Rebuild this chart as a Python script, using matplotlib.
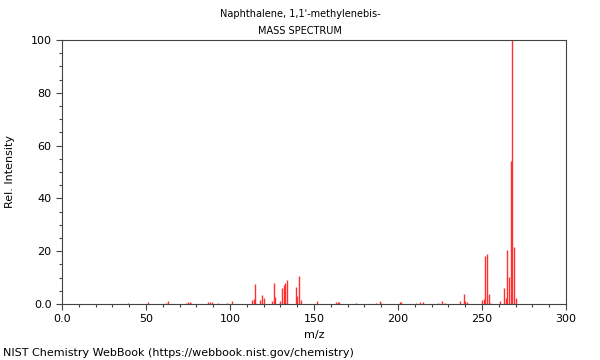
import matplotlib
matplotlib.use("Agg")
from matplotlib import pyplot as plt
from matplotlib.ticker import MultipleLocator, FuncFormatter

# ------------------------------------------------------------------------ data
title = "Naphthalene, 1,1'-methylenebis-"
mz = [39, 51, 62, 63, 74, 75, 76, 77, 87, 88, 89, 93, 98, 101,
      113, 114, 115, 118, 119, 120, 125, 126, 127, 130, 131, 132, 133, 134,
      139, 140, 141, 142, 152, 163, 164, 165, 175, 187, 189, 190, 201, 202,
      211, 213, 215, 224, 226, 228, 237, 239, 240, 241, 250, 251, 252, 253,
      254, 255, 261, 263, 264, 265, 266, 267, 268, 269, 270]
intensity = [0.5, 0.6, 0.4, 1.0, 0.5, 0.6, 0.6, 0.5, 0.6, 0.7, 0.6, 0.3, 0.4, 1.0,
             1.5, 1.8, 7.6, 1.5, 3.4, 2.3, 1.0, 7.8, 2.5, 1.2, 6.0, 7.2, 7.8, 9.1,
             6.3, 3.0, 10.6, 1.5, 1.0, 0.7, 0.6, 0.8, 0.3, 0.5, 1.0, 0.4, 0.6, 0.7,
             0.5, 0.7, 0.6, 0.4, 1.1, 0.5, 1.0, 3.8, 1.2, 0.9, 1.5, 2.0, 18.2, 18.8,
             3.8, 0.5, 1.3, 5.9, 2.4, 20.4, 10.4, 54.2, 100.0, 21.7, 2.2]

# ---------------------------------------------------------------------- figure
fig = plt.figure(figsize=(6, 3.6), dpi=100)
ax = fig.add_axes([0.1033, 0.1556, 0.84, 0.7333])

ax.vlines(mz, 0, intensity, colors="#ff3030", lw=1.0)

ax.set_xlim(0, 300)
ax.set_ylim(0, 100)
ax.xaxis.set_major_locator(MultipleLocator(50))
ax.xaxis.set_minor_locator(MultipleLocator(10))
ax.yaxis.set_major_locator(MultipleLocator(20))
ax.yaxis.set_minor_locator(MultipleLocator(5))
fmt = FuncFormatter(lambda v, p: "0.0" if v == 0 else f"{v:.0f}")
ax.xaxis.set_major_formatter(fmt)
ax.yaxis.set_major_formatter(fmt)
ax.tick_params(which="both", labelsize=8, color="#444444", width=0.8)
ax.tick_params(which="major", length=4)
ax.tick_params(which="minor", length=2.5)
for s in ax.spines.values():
    s.set_color("#444444")
    s.set_linewidth(0.8)

ax.set_xlabel("m/z", fontsize=8, labelpad=4)
ax.set_ylabel("Rel. Intensity", fontsize=8, labelpad=11)

fig.text(0.5, 0.96, title, ha="center", va="center", fontsize=7)
fig.text(0.5, 0.914, "MASS SPECTRUM", ha="center", va="center", fontsize=7)
fig.text(0.005, 0.02, "NIST Chemistry WebBook (https://webbook.nist.gov/chemistry)",
         ha="left", va="center", fontsize=8)

fig.savefig("out.png", dpi=100)
